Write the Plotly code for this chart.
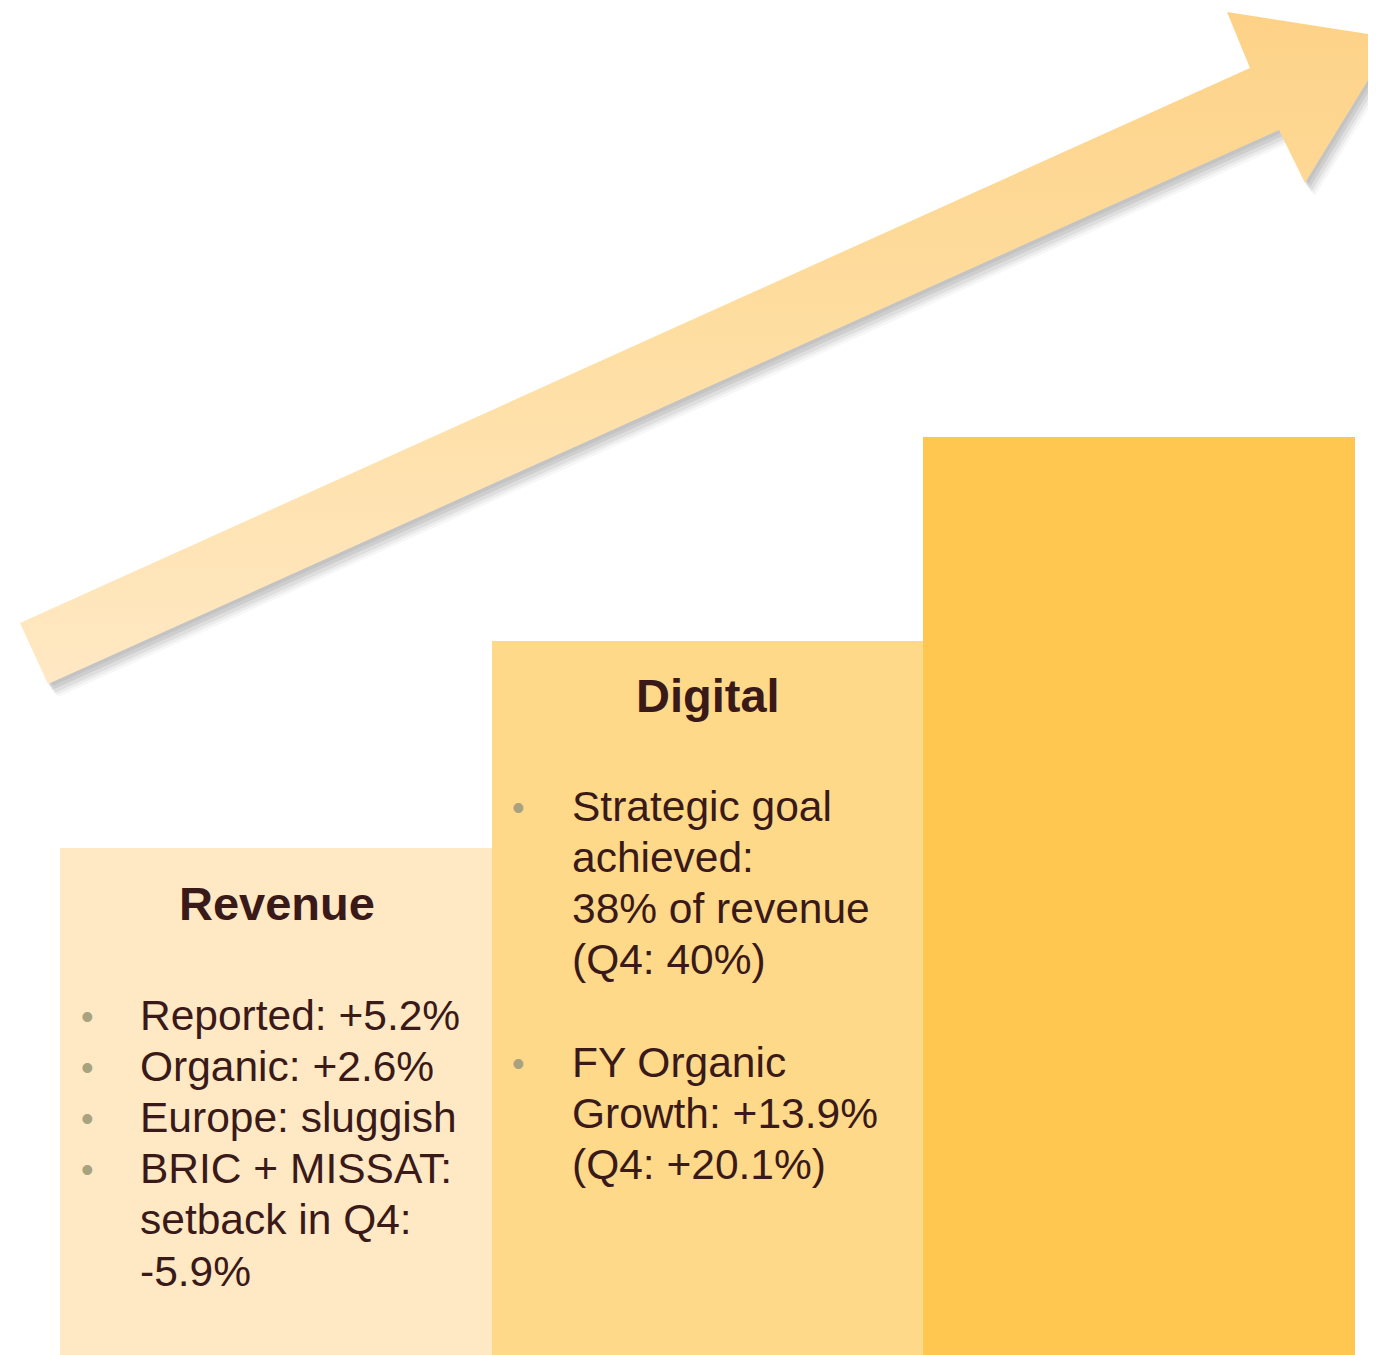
import plotly.graph_objects as go

# ---- data ----
categories = ["Revenue", "Digital", "Future"]
bar_values = [507, 714, 918]
bar_colors = ["#FFE9C4", "#FFD98A", "#FFC650"]

revenue_title = "Revenue"
revenue_lines = ["Reported: +5.2%", "Organic: +2.6%", "Europe: sluggish",
                 "BRIC + MISSAT:", "setback in Q4:", "-5.9%"]
revenue_bullets = [True, True, True, True, False, False]

digital_title = "Digital"
digital_lines = ["Strategic goal", "achieved:", "38% of revenue", "(Q4: 40%)",
                 "", "FY Organic", "Growth: +13.9%", "(Q4: +20.1%)"]
digital_bullets = [True, False, False, False, False, True, False, False]

# arrow outline (screen pixel space, y measured from top)
ARROW_PTS = [(20, 623), (1250, 68), (1227, 12), (1394, 38), (1305, 183),
             (1279, 130), (48, 684), (20, 623)]

W, H = 1376, 1355
OFF = 8  # page body margin
TEXT_COLOR = "#3A1A19"
BULLET_COLOR = "#A8A27F"
FONT = "Liberation Sans, Arial, sans-serif"

fig = go.Figure()

# bars on category axis
fig.add_trace(go.Bar(
    x=categories, y=bar_values, width=1.0,
    marker=dict(color=bar_colors, line=dict(width=0)),
    hoverinfo="skip", showlegend=False))

def ypx(py):
    return H + OFF - py

# shadow layers
for dx, dy, a in [(2, 3, 0.08), (4, 6, 0.09), (6, 9, 0.08), (8, 11, 0.06), (10, 13, 0.04)]:
    fig.add_trace(go.Scatter(
        x=[p[0] + dx for p in ARROW_PTS], y=[ypx(p[1] + dy) for p in ARROW_PTS],
        xaxis="x2", yaxis="y2", mode="lines", fill="toself",
        fillcolor=f"rgba(60,60,60,{a})", line=dict(width=0),
        hoverinfo="skip", showlegend=False))

# arrow body with gradient
fig.add_trace(go.Scatter(
    x=[p[0] for p in ARROW_PTS], y=[ypx(p[1]) for p in ARROW_PTS],
    xaxis="x2", yaxis="y2", mode="lines", fill="toself",
    fillgradient=dict(type="vertical",
                      colorscale=[[0, "#FFE8C4"], [0.5, "#FEDEA2"], [1, "#FDD287"]]),
    line=dict(width=0), hoverinfo="skip", showlegend=False))

annotations = []

def add_text(x, py, text, size, bold=False, color=TEXT_COLOR, anchor="left"):
    annotations.append(dict(
        xref="x2", yref="y2", x=x, y=ypx(py), text=f"<b>{text}</b>" if bold else text,
        showarrow=False, xanchor=anchor, yanchor="middle",
        font=dict(family=FONT, size=size, color=color)))

# titles
add_text(277, 903, revenue_title, 47, bold=True, anchor="center")
add_text(708, 695, digital_title, 47, bold=True, anchor="center")

LINE_STEP = 51.2
for i, (t, b) in enumerate(zip(revenue_lines, revenue_bullets)):
    py = 1015 + i * LINE_STEP
    add_text(138, py, t, 42.5)
    if b:
        add_text(87, py + 1, "•", 36, color=BULLET_COLOR, anchor="center")

for i, (t, b) in enumerate(zip(digital_lines, digital_bullets)):
    py = 806 + i * LINE_STEP
    if t:
        add_text(570, py, t, 42.5)
    if b:
        add_text(518, py + 1, "•", 36, color=BULLET_COLOR, anchor="center")

unit = 431.67
fig.update_layout(
    width=W, height=H, margin=dict(l=0, r=0, t=0, b=0),
    paper_bgcolor="white", plot_bgcolor="white",
    bargap=0, showlegend=False,
    xaxis=dict(range=[-0.5 - (60 - OFF) / unit, 2.5 + (W + OFF - 1355) / unit],
               visible=False, fixedrange=True),
    yaxis=dict(range=[-OFF, H - OFF], visible=False, fixedrange=True),
    xaxis2=dict(range=[OFF, W + OFF], overlaying="x", visible=False, fixedrange=True),
    yaxis2=dict(range=[0, H], overlaying="y", visible=False, fixedrange=True),
    annotations=annotations,
)

fig.write_html("out.html")
